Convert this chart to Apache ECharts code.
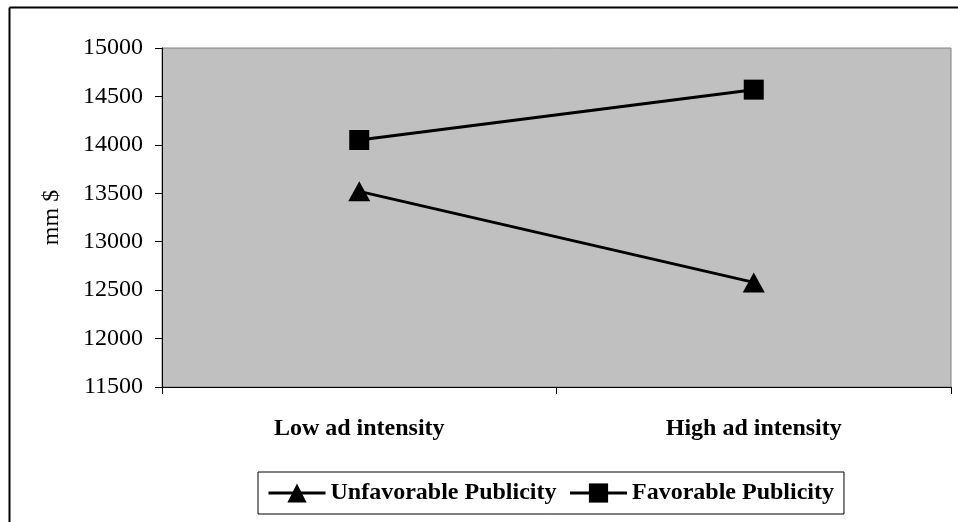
<!DOCTYPE html>
<html>
<head>
<meta charset="utf-8">
<style>
  html, body { margin: 0; padding: 0; background: #fff; }
  #chart { width: 958px; height: 522px; }
</style>
<script src="https://cdn.jsdelivr.net/npm/echarts@6/dist/echarts.min.js"></script>
</head>
<body>
<div id="chart"></div>
<script>
// Ad intensity categories and the two publicity conditions (mm $)
const categories = ['Low ad intensity', 'High ad intensity'];
const unfavorable = [13520, 12580];
const favorable = [14050, 14570];
const yTicks = { min: 11500, max: 15000, step: 500 };

const serif = '"Liberation Serif", "Times New Roman", serif';
const chart = echarts.init(document.getElementById('chart'));

chart.setOption({
  animation: false,
  backgroundColor: '#ffffff',
  graphic: [
    { type: 'line', shape: { x1: 9.5, y1: 7.5, x2: 958, y2: 7.5 }, style: { stroke: '#000', lineWidth: 2 } },
    { type: 'line', shape: { x1: 9.5, y1: 7.5, x2: 9.5, y2: 522 }, style: { stroke: '#000', lineWidth: 2 } }
  ],
  grid: {
    left: 162, top: 48, right: 7, bottom: 135,
    show: true, backgroundColor: '#C0C0C0', borderColor: '#808080', borderWidth: 1
  },
  legend: {
    left: 258, top: 472,
    padding: [9, 10, 9, 9],
    borderColor: '#000', borderWidth: 1,
    itemWidth: 57, itemHeight: 24, itemGap: 12,
    lineStyle: { width: 3, color: '#000' },
    textStyle: { fontFamily: serif, fontWeight: 'bold', fontSize: 24, color: '#000' },
    data: ['Unfavorable Publicity', 'Favorable Publicity']
  },
  xAxis: {
    type: 'category',
    data: categories,
    boundaryGap: true,
    axisLine: { lineStyle: { color: '#000', width: 1 } },
    axisTick: { show: true, length: 7, lineStyle: { color: '#000' } },
    axisLabel: { fontFamily: serif, fontWeight: 'bold', fontSize: 24, color: '#000', margin: 30 },
    splitLine: { show: false }
  },
  yAxis: {
    type: 'value',
    min: yTicks.min, max: yTicks.max, interval: yTicks.step,
    name: 'mm $',
    nameLocation: 'middle',
    nameGap: 98,
    nameRotate: 90,
    nameTextStyle: { fontFamily: serif, fontSize: 24, color: '#000' },
    axisLine: { show: true, lineStyle: { color: '#000', width: 1 } },
    axisTick: { show: true, length: 7, lineStyle: { color: '#000' } },
    axisLabel: {
      fontFamily: serif, fontSize: 24, color: '#000', margin: 19,
      formatter: (v) => String(v)
    },
    splitLine: { show: false }
  },
  series: [
    {
      name: 'Unfavorable Publicity',
      type: 'line',
      data: unfavorable,
      symbol: 'triangle',
      symbolSize: [22, 20],
      lineStyle: { color: '#000', width: 3 },
      itemStyle: { color: '#000', borderWidth: 0 }
    },
    {
      name: 'Favorable Publicity',
      type: 'line',
      data: favorable,
      symbol: 'rect',
      symbolSize: 20,
      lineStyle: { color: '#000', width: 3 },
      itemStyle: { color: '#000', borderWidth: 0 }
    }
  ]
});
</script>
</body>
</html>
